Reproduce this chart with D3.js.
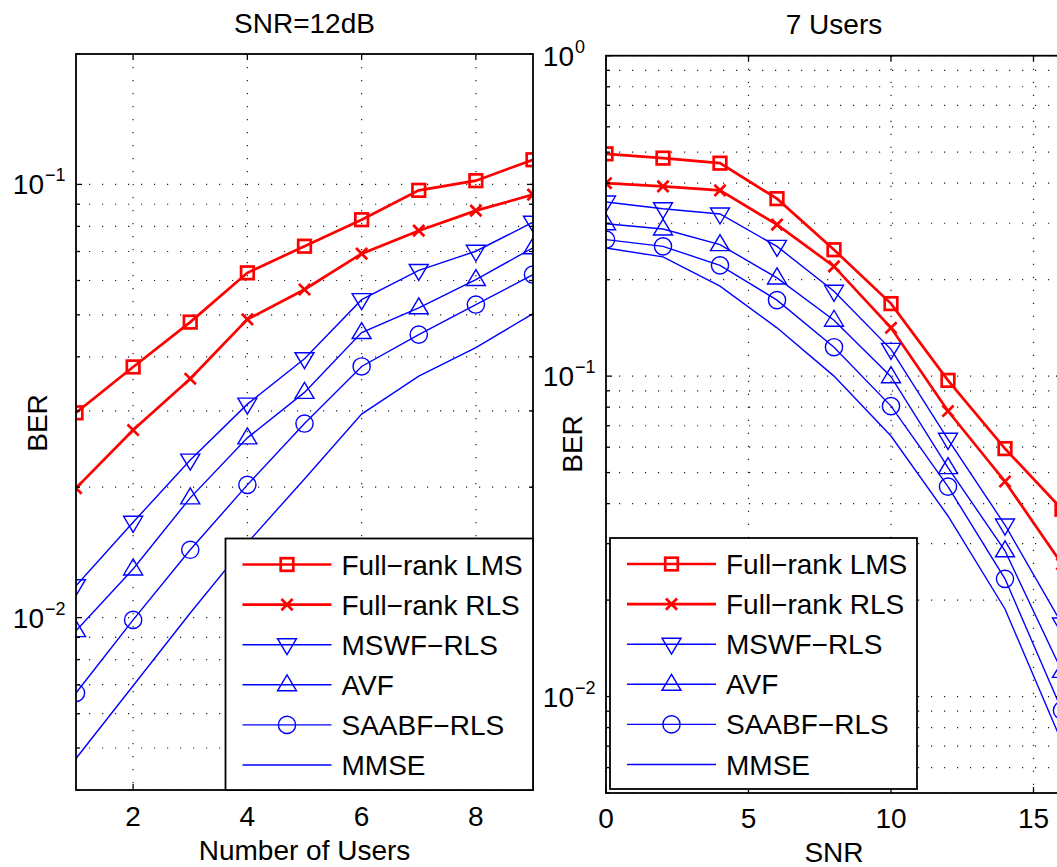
<!DOCTYPE html>
<html><head><meta charset="utf-8">
<script src="https://cdn.jsdelivr.net/npm/d3@7"></script>
<style>
body{margin:0;background:#fff}
svg{display:block}
text{font-family:'Liberation Sans',Arial,Helvetica,sans-serif;fill:#000}
</style>
</head><body>
<svg id="c" width="1057" height="867"></svg>
<script>
// ---------------- data ----------------
const seriesNames = ["Full\u2212rank LMS","Full\u2212rank RLS","MSWF\u2212RLS","AVF","SAABF\u2212RLS","MMSE"];

// Left panel: SNR = 12 dB, BER vs number of users
const users = [1,2,3,4,5,6,7,8,9];
const usersTicks = [2,4,6,8];
const leftLMS   = [0.0297,0.0379,0.0481,0.0625,0.0720,0.0829,0.0969,0.1020,0.1140];
const leftRLS   = [0.0199,0.0271,0.0356,0.0488,0.0572,0.0692,0.0782,0.0870,0.0947];
const leftMSWF  = [0.01185,0.0166,0.0231,0.0311,0.0396,0.0542,0.0633,0.0701,0.0818];
const leftAVF   = [0.00933,0.01295,0.0189,0.0260,0.0331,0.0455,0.0519,0.0603,0.0714];
const leftSAABF = [0.0067,0.00988,0.01434,0.02025,0.02805,0.0380,0.0450,0.0528,0.0619];
const leftMMSE  = [0.00473,0.00696,0.01025,0.01488,0.0209,0.0295,0.0361,0.0420,0.0503];

// Right panel: 7 users, BER vs SNR
const snr = [0,2,4,6,8,10,12,14,16];
const snrTicks = [0,5,10,15];
const rightLMS   = [0.494,0.479,0.462,0.358,0.248,0.1684,0.0970,0.0594,0.0384];
const rightRLS   = [0.400,0.391,0.380,0.297,0.220,0.1415,0.0778,0.0469,0.0259];
const rightMSWF  = [0.3495,0.333,0.3206,0.254,0.184,0.1212,0.0635,0.0343,0.01684];
const rightAVF   = [0.299,0.2878,0.2572,0.2025,0.1494,0.0996,0.0518,0.0285,0.01198];
const rightSAABF = [0.2667,0.2541,0.2217,0.1727,0.1231,0.0806,0.0452,0.0233,0.00905];
const rightMMSE  = [0.2512,0.2355,0.1908,0.1415,0.1000,0.0650,0.0366,0.01876,0.00719];

// ---------------- styles ----------------
const RED = "#ff0000", BLUE = "#0000ff";
const styles = [
  {color:RED, width:2.7, marker:"square"},
  {color:RED, width:2.7, marker:"x"},
  {color:BLUE, width:1.4, marker:"down"},
  {color:BLUE, width:1.4, marker:"up"},
  {color:BLUE, width:1.4, marker:"circle"},
  {color:BLUE, width:1.4, marker:"none"}
];
const FS = 28, SUPFS = 18;

const svg = d3.select("#c");

function drawMarker(g, type, x, y, st) {
  const common = s => s.attr("fill","none").attr("stroke",st.color).attr("stroke-width",st.width);
  if (type === "square") {
    common(g.append("rect").attr("x",x-6.3).attr("y",y-6.3).attr("width",12.6).attr("height",12.6));
  } else if (type === "x") {
    common(g.append("path").attr("d",`M${x-5.6},${y-5.6}L${x+5.6},${y+5.6}M${x-5.6},${y+5.6}L${x+5.6},${y-5.6}`));
  } else if (type === "down") {
    common(g.append("path").attr("d",`M${x-9.5},${y-6}L${x+9.5},${y-6}L${x},${y+10}Z`));
  } else if (type === "up") {
    common(g.append("path").attr("d",`M${x},${y-10}L${x+9.5},${y+6}L${x-9.5},${y+6}Z`));
  } else if (type === "circle") {
    common(g.append("circle").attr("cx",x).attr("cy",y).attr("r",8.6));
  }
}

function panel(cfg) {
  const x = d3.scaleLinear().domain(cfg.xDomain).range([cfg.left, cfg.right]);
  const y = d3.scaleLog().domain(cfg.yDomain).range([cfg.bottom, cfg.top]);
  const g = svg.append("g");
  const id = "clip" + cfg.key;
  svg.append("clipPath").attr("id", id).append("rect")
    .attr("x", cfg.left).attr("y", cfg.top)
    .attr("width", cfg.right - cfg.left).attr("height", cfg.bottom - cfg.top);

  // log ticks (major + minor)
  const lo = Math.floor(Math.log10(cfg.yDomain[0])), hi = Math.ceil(Math.log10(cfg.yDomain[1]));
  const yTicks = [], yMajor = [];
  for (let d = lo; d <= hi; d++) {
    for (let k = 1; k <= 9; k++) {
      const v = +(k * Math.pow(10, d)).toPrecision(6);
      if (v >= cfg.yDomain[0] * 0.9999 && v <= cfg.yDomain[1] * 1.0001) {
        yTicks.push(v);
        if (k === 1) yMajor.push(d);
      }
    }
  }

  // grid
  const grid = g.append("g").attr("stroke","#222").attr("stroke-width",1.2)
    .attr("stroke-dasharray","1.2 11.8").attr("fill","none");
  cfg.xTicks.forEach(t => {
    grid.append("line").attr("x1",x(t)).attr("x2",x(t)).attr("y1",cfg.top).attr("y2",cfg.bottom);
  });
  yTicks.forEach(t => {
    grid.append("line").attr("x1",cfg.left).attr("x2",cfg.right).attr("y1",y(t)).attr("y2",y(t));
  });

  // data
  const dg = g.append("g").attr("clip-path", `url(#${id})`);
  cfg.series.forEach((vals, i) => {
    const st = styles[i];
    const pts = cfg.xs.map((xv, j) => [x(xv), y(vals[j])]);
    dg.append("path").attr("d", d3.line()(pts)).attr("fill","none")
      .attr("stroke", st.color).attr("stroke-width", st.width).attr("stroke-linejoin","miter");
    pts.forEach(p => drawMarker(dg, st.marker, p[0], p[1], st));
  });

  // frame ticks
  const tk = g.append("g").attr("stroke","#000").attr("stroke-width",1.3);
  cfg.xTicks.forEach(t => {
    tk.append("line").attr("x1",x(t)).attr("x2",x(t)).attr("y1",cfg.bottom).attr("y2",cfg.bottom-6);
    tk.append("line").attr("x1",x(t)).attr("x2",x(t)).attr("y1",cfg.top).attr("y2",cfg.top+6);
  });
  yTicks.forEach(t => {
    const major = Math.abs(Math.log10(t) - Math.round(Math.log10(t))) < 1e-6;
    const len = major ? 6 : 4;
    tk.append("line").attr("x1",cfg.left).attr("x2",cfg.left+len).attr("y1",y(t)).attr("y2",y(t));
    tk.append("line").attr("x1",cfg.right).attr("x2",cfg.right-len).attr("y1",y(t)).attr("y2",y(t));
  });

  // frame
  g.append("rect").attr("x",cfg.left).attr("y",cfg.top)
    .attr("width",cfg.right-cfg.left).attr("height",cfg.bottom-cfg.top)
    .attr("fill","none").attr("stroke","#000").attr("stroke-width",1.8);

  // x tick labels
  cfg.xTicks.forEach(t => {
    g.append("text").attr("x",x(t)).attr("y",cfg.tickBaseline).attr("text-anchor","middle")
      .attr("font-size",FS).text(t);
  });
  // y tick labels (decades)
  yMajor.forEach(d => {
    const yy = y(Math.pow(10,d));
    g.append("text").attr("x",cfg.left-32).attr("y",yy+10).attr("text-anchor","end")
      .attr("font-size",FS).text("10");
    g.append("text").attr("x",cfg.left-31).attr("y",yy-3).attr("text-anchor","start")
      .attr("font-size",SUPFS).text(d < 0 ? "\u2212" + (-d) : String(d));
  });

  // labels
  g.append("text").attr("x",(cfg.left+cfg.right)/2).attr("y",cfg.titleBaseline)
    .attr("text-anchor","middle").attr("font-size",FS).text(cfg.title);
  g.append("text").attr("x",(cfg.left+cfg.right)/2).attr("y",cfg.xlabelBaseline)
    .attr("text-anchor","middle").attr("font-size",FS).text(cfg.xlabel);
  g.append("text").attr("transform",`translate(${cfg.ylabelX},${cfg.ylabelY}) rotate(-90)`)
    .attr("text-anchor","middle").attr("dominant-baseline","central")
    .attr("font-size",FS).text("BER");

  // legend
  const L = cfg.legend;
  const lg = g.append("g");
  lg.append("rect").attr("x",L.x).attr("y",L.y).attr("width",L.w).attr("height",L.h)
    .attr("fill","#fff").attr("stroke","#000").attr("stroke-width",1.8);
  seriesNames.forEach((name, i) => {
    const st = styles[i];
    const ry = L.y + 26 + i * 40.1;
    lg.append("line").attr("x1",L.x+17).attr("x2",L.x+106).attr("y1",ry).attr("y2",ry)
      .attr("stroke",st.color).attr("stroke-width",st.width);
    drawMarker(lg, st.marker, L.x+61.5, ry, st);
    lg.append("text").attr("x",L.x+116).attr("y",ry+10).attr("font-size",FS).text(name);
  });
}

panel({
  key:"L", left:76, right:533, top:54, bottom:790,
  xDomain:[1,9], yDomain:[0.004,0.2], xTicks:usersTicks, xs:users,
  series:[leftLMS,leftRLS,leftMSWF,leftAVF,leftSAABF,leftMMSE],
  title:"SNR=12dB", xlabel:"Number of Users",
  titleBaseline:33, tickBaseline:826, xlabelBaseline:860,
  ylabelX:37, ylabelY:423,
  legend:{x:225.5, y:538.5, w:307.5, h:251.5}
});

panel({
  key:"R", left:606, right:1062, top:55.7, bottom:793,
  xDomain:[0,16], yDomain:[0.005,1], xTicks:snrTicks, xs:snr,
  series:[rightLMS,rightRLS,rightMSWF,rightAVF,rightSAABF,rightMMSE],
  title:"7 Users", xlabel:"SNR",
  titleBaseline:34, tickBaseline:828, xlabelBaseline:862,
  ylabelX:572, ylabelY:444,
  legend:{x:610, y:538, w:307, h:251}
});
</script>
</body></html>
